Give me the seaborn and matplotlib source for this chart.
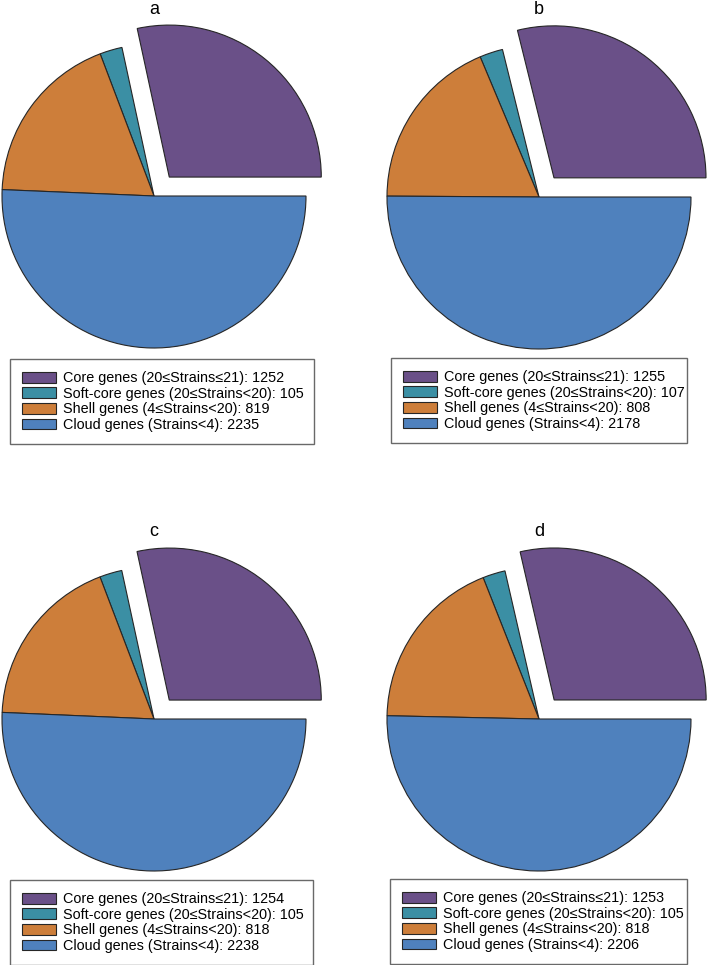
import numpy as np
import pandas as pd
import matplotlib
matplotlib.use("Agg")
import matplotlib.pyplot as plt
import seaborn as sns

categories = ["Core genes (20≤Strains≤21)", "Soft-core genes (20≤Strains<20)",
              "Shell genes (4≤Strains<20)", "Cloud genes (Strains<4)"]
panels = ["a", "b", "c", "d"]
counts_a = [1252, 105, 819, 2235]
counts_b = [1255, 107, 808, 2178]
counts_c = [1254, 105, 818, 2238]
counts_d = [1253, 105, 818, 2206]

colors = sns.color_palette(["#6a5088", "#3b8fa4", "#cd7e3a", "#4f81bd"])

sns.set_theme(style="white", rc={"text.color": "black"})
plt.rcParams['font.family'] = ['Liberation Sans', 'DejaVu Sans']

W, H = 709, 965
fig = plt.figure(figsize=(W / 100, H / 100), dpi=100)

R = 152      # pie radius in pixels
LIM = 1.25

# pie centre (px from top-left), title y, legend box (left, top, width)
centres = [(154, 196), (539, 197), (154, 719), (539, 719)]
title_y = [10, 10, 532, 532]
legend_box = [(10, 359, 304), (391, 358, 296), (10, 880, 303), (390, 879, 297)]

for name, vals, (cx, cy), ty, (lx, ly, lw) in zip(
        panels, [counts_a, counts_b, counts_c, counts_d], centres, title_y, legend_box):
    ax = fig.add_axes([(cx - LIM * R) / W, 1 - (cy + LIM * R) / H,
                       2 * LIM * R / W, 2 * LIM * R / H])
    wedges, _ = ax.pie(vals, colors=colors, startangle=0, counterclock=True,
                       explode=[0.16, 0, 0, 0],
                       wedgeprops=dict(edgecolor="#262626", linewidth=0.8))
    ax.set_xlim(-LIM, LIM)
    ax.set_ylim(-LIM, LIM)
    ax.axis("off")
    ax.text(0, (cy - ty) / R, name, ha="center", va="center", fontsize=13)

    labels = [f"{c}: {v}" for c, v in zip(categories, vals)]
    leg = fig.legend(wedges, labels, loc="upper left",
                     bbox_to_anchor=(lx / W, 1 - ly / H, lw / W, 0), mode="expand",
                     borderaxespad=0, fontsize=10.4, frameon=True, fancybox=False,
                     edgecolor="#444444", labelspacing=0.11, handlelength=2.3,
                     handleheight=0.76, handletextpad=0.55, borderpad=0.85)
    leg.get_frame().set_linewidth(1.0)
    for h in leg.legend_handles:
        h.set_edgecolor("#262626")
        h.set_linewidth(0.8)

fig.savefig("out.png", dpi=100)
